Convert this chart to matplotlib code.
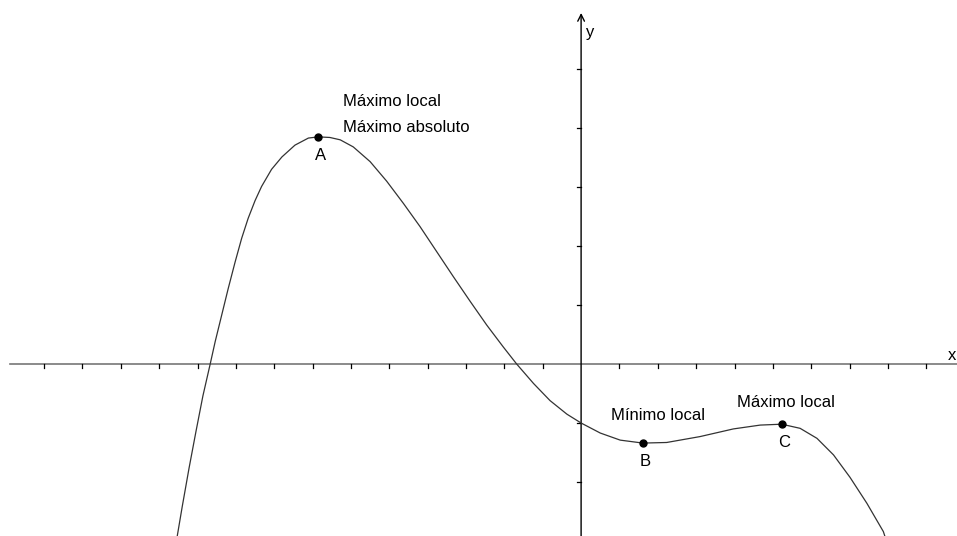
import matplotlib
matplotlib.use("Agg")
import matplotlib.pyplot as plt

plt.rcParams['font.family'] = ['Liberation Sans', 'DejaVu Sans']

# curve (x, y in axis units)
curve_x = [-10.53, -10.40, -10.22, -10.04, -9.86, -9.67, -9.54, -9.37, -9.20, -9.02,
           -8.85, -8.68, -8.50, -8.33, -8.07, -7.80, -7.46, -7.11, -6.85, -6.55,
           -6.28, -5.94, -5.50, -5.07, -4.63, -4.20, -3.76, -3.33, -2.89, -2.46,
           -2.03, -1.68, -1.24, -0.81, -0.37, 0.00, 0.50, 1.02, 1.61, 2.23,
           3.10, 3.97, 4.67, 5.23, 5.71, 6.15, 6.58, 7.01, 7.45, 7.88, 7.95]
curve_y = [-2.92, -2.42, -1.76, -1.14, -0.54, 0.00, 0.38, 0.83, 1.28, 1.73,
           2.13, 2.47, 2.77, 3.01, 3.30, 3.51, 3.71, 3.83, 3.85, 3.84,
           3.80, 3.68, 3.43, 3.10, 2.72, 2.33, 1.90, 1.48, 1.06, 0.66,
           0.29, 0.00, -0.33, -0.62, -0.85, -1.00, -1.17, -1.29, -1.34, -1.33,
           -1.23, -1.10, -1.035, -1.02, -1.09, -1.26, -1.54, -1.92, -2.36, -2.84, -2.98]

point_names = ["A", "B", "C"]
point_x = [-6.85, 1.61, 5.23]
point_y = [3.85, -1.34, -1.02]

x_ticks = [t for t in range(-14, 10) if t != 0]
y_ticks = [-2, -1, 1, 2, 3, 4, 5]

fig = plt.figure(figsize=(9.57, 5.36), dpi=100)
ax = fig.add_axes([0, 0, 1, 1])
ax.set_xlim(-15.15, 9.80)
ax.set_ylim(-2.915, 6.17)
ax.axis("off")

# axes
ax.plot([-14.88, 9.80], [0, 0], color="#777777", lw=1.2, zorder=1)
ax.annotate("", xy=(0, 5.95), xytext=(0, -2.915),
            arrowprops=dict(arrowstyle="->", color="black", lw=1.0,
                            mutation_scale=12, shrinkA=0, shrinkB=0), zorder=1)
ax.text(0.24, 5.62, "y", fontsize=12, ha="center", va="center")
ax.text(9.57, 0.15, "x", fontsize=12, ha="left", va="center")

tx = 4 / 38.35
ty = 4 / 59
for t in x_ticks:
    ax.plot([t, t], [0, -ty], color="black", lw=0.9, zorder=1)
for t in y_ticks:
    ax.plot([-tx, 0], [t, t], color="black", lw=0.9, zorder=1)

# function
ax.plot(curve_x, curve_y, color="#333333", lw=0.9, zorder=2,
        solid_joinstyle="round")

# points
ax.plot(point_x, point_y, "o", color="black", ms=5, zorder=3)
for name, px, py in zip(point_names, point_x, point_y):
    ax.text(px + 0.05, py - 0.31, name, fontsize=12, ha="center", va="center")

ax.text(-6.2, 4.45, "Máximo local", fontsize=12, ha="left", va="center")
ax.text(-6.2, 4.01, "Máximo absoluto", fontsize=12, ha="left", va="center")
ax.text(0.79, -0.88, "Mínimo local", fontsize=12, ha="left", va="center")
ax.text(4.07, -0.66, "Máximo local", fontsize=12, ha="left", va="center")

fig.savefig("out.png", dpi=100)
